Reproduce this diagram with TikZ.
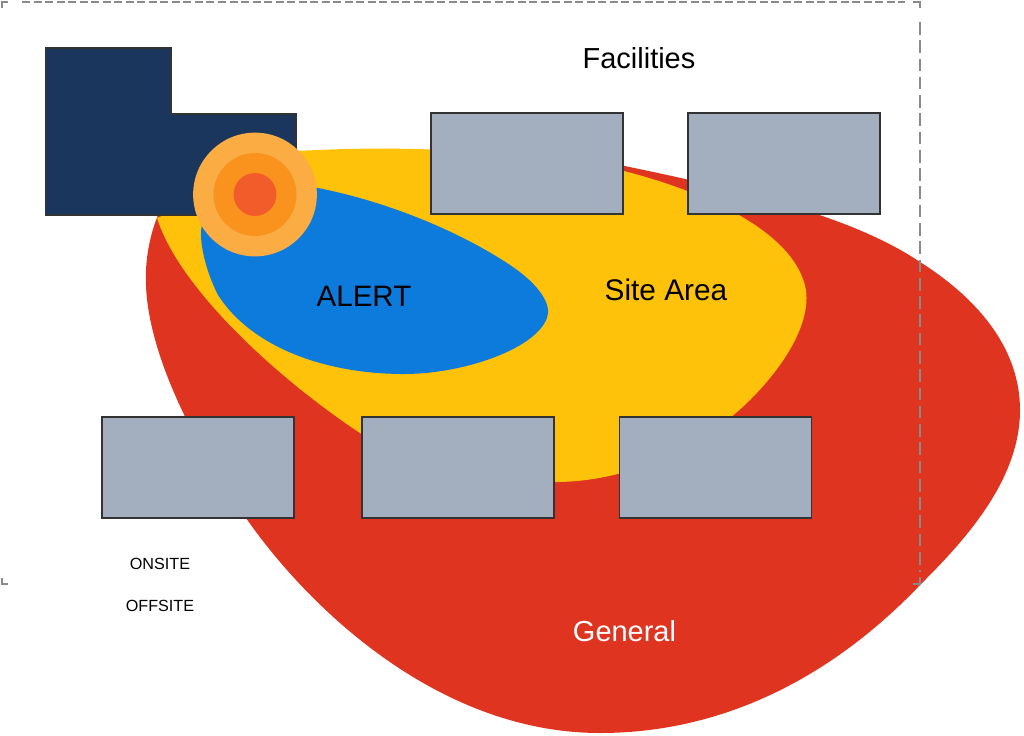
\documentclass[tikz,border=0pt]{standalone}
\usepackage{fontspec}
\setmainfont{Liberation Sans}
\definecolor{general}{HTML}{DE3420}
\definecolor{sitearea}{HTML}{FFC20A}
\definecolor{alert}{HTML}{0C7BDC}
\definecolor{navy}{HTML}{1B365D}
\definecolor{slate}{HTML}{A3AFBF}
\definecolor{ringa}{HTML}{FBAC43}
\definecolor{ringb}{HTML}{F9931D}
\definecolor{ringc}{HTML}{F25C2A}
\definecolor{frameline}{HTML}{8A8A8C}
\tikzset{
  facility/.style={draw=black!80, line width=1.2pt, fill=slate, minimum width=136.5pt, minimum height=71.5pt, inner sep=0pt},
  framecorner/.style={frameline, line width=1pt},
  framedashh/.style={framecorner, dash pattern=on 5.7pt off 2.5pt},
  framedashv/.style={framecorner, dash pattern=on 9pt off 4pt},
}
\begin{document}
\begin{tikzpicture}[x=0.25mm, y=-0.25mm]
  \useasboundingbox (0,0) rectangle (1024,736);

  % General
  \fill[general] (158,215) .. controls (148,240) and (145,265) .. (146,285)
    .. controls (148,350) and (190,440) .. (246,518)
    .. controls (310,610) and (440,733) .. (600,733)
    .. controls (720,733) and (830,680) .. (922,583)
    .. controls (965,540) and (1020,480) .. (1020,410)
    .. controls (1020,350) and (980,300) .. (920,262)
    .. controls (850,215) and (740,190) .. (620,165) -- (400,180) -- cycle;

  % Site Area
  \fill[sitearea] (157,218) .. controls (180,290) and (280,380) .. (360,433)
    .. controls (420,470) and (490,485) .. (560,482)
    .. controls (640,480) and (710,440) .. (750,400)
    .. controls (790,360) and (810,320) .. (806,290)
    .. controls (795,230) and (700,190) .. (620,170)
    .. controls (520,150) and (400,145) .. (298,151) -- (200,200) -- cycle;

  % Alert
  \fill[alert] (255,180) .. controls (350,185) and (450,225) .. (510,265)
    .. controls (540,285) and (552,305) .. (547,318)
    .. controls (535,350) and (460,375) .. (400,374)
    .. controls (320,373) and (250,345) .. (218,295)
    .. controls (205,270) and (197,235) .. (203,222) -- cycle;

  % Building
  \draw[draw=black!80, line width=0.9pt, fill=navy] (45.5,48) -- (171,48) -- (171,114) -- (296,114) -- (296,215) -- (45.5,215) -- cycle;

  % Rings
  \node[circle, fill=ringa, minimum size=88pt, inner sep=0pt] (outerring) at (255,194.5) {};
  \node[circle, fill=ringb, minimum size=59pt, inner sep=0pt] (middlering) at (255,194.5) {};
  \node[circle, fill=ringc, minimum size=30.5pt, inner sep=0pt] (innerring) at (255,194.5) {};

  % Facility boxes
  \foreach \name/\x/\y in {facA/527/163.5, facB/784/163.5, facC/198/467.5, facD/458/467.5, facE/715.5/467.5} {
    \node[facility] (\name) at (\x,\y) {};
  }

  % Dashed frame
  \draw[framedashh] (22,2) -- (905,2);
  \draw[framecorner] (913,2) -- (920,2) -- (920,8);
  \draw[framedashv] (920,22) -- (920,572);
  \draw[framecorner] (920,577) -- (920,584) -- (913,584);
  \draw[framecorner] (2,8) -- (2,2) -- (8,2);
  \draw[framecorner] (2,578) -- (2,584) -- (8,584);

  % Labels
  \node[font=\fontsize{20.6}{24}\selectfont] (facilities) at (639,58) {Facilities};
  \node[font=\fontsize{21}{24}\selectfont] (alertlabel) at (364,296) {ALERT};
  \node[font=\fontsize{21.2}{24}\selectfont] (sitelabel) at (666,290) {Site Area};
  \node[font=\fontsize{20.6}{24}\selectfont, white] (generallabel) at (624.5,631) {General};
  \node[font=\fontsize{11.5}{14}\selectfont] (onsite) at (160,564) {ONSITE};
  \node[font=\fontsize{11.5}{14}\selectfont] (offsite) at (160,606) {OFFSITE};
\end{tikzpicture}
\end{document}
